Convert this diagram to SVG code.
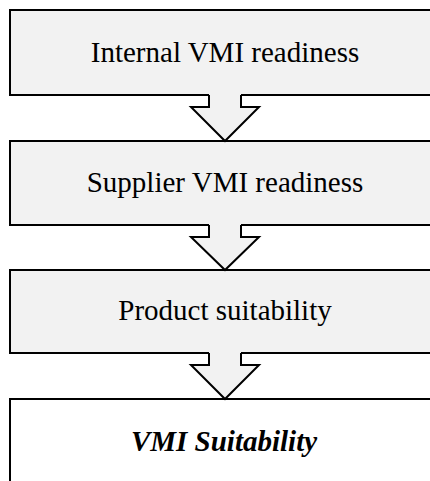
<svg xmlns="http://www.w3.org/2000/svg" width="430" height="481" viewBox="0 0 430 481">
<style>
.box{fill:#f2f2f2;stroke:#000;stroke-width:2}
.final{fill:#fff;stroke:#000;stroke-width:2}
.lbl{font-family:"Liberation Serif","Times New Roman",serif;font-size:29px;fill:#000;text-anchor:middle}
.bi{font-weight:bold;font-style:italic}
.afill{fill:#f2f2f2;stroke:none}
.aline{fill:none;stroke:#000;stroke-width:2;stroke-linejoin:miter}
</style>
<rect width="430" height="481" fill="#fff"/>
<g id="node1">
<rect class="box" x="10" y="10" width="440" height="85"/>
<text class="lbl" x="225" y="62">Internal VMI readiness</text>
</g>
<g id="node2">
<rect class="box" x="10" y="141" width="440" height="84"/>
<text class="lbl" x="225" y="192">Supplier VMI readiness</text>
</g>
<g id="node3">
<rect class="box" x="10" y="270" width="440" height="83"/>
<text class="lbl" x="225" y="320">Product suitability</text>
</g>
<g id="node4">
<rect class="final" x="10" y="399" width="440" height="100"/>
<text class="lbl bi" x="224" y="451">VMI Suitability</text>
</g>
<g id="connectors">
<polygon class="afill" points="209,94 241,94 241,107 259,107 225,141 191,107 209,107"/>
<polyline class="aline" points="209,95 209,107 191,107 225,141 259,107 241,107 241,95"/>
<polygon class="afill" points="209,224 241,224 241,237 259,237 225,270 191,237 209,237"/>
<polyline class="aline" points="209,225 209,237 191,237 225,270 259,237 241,237 241,225"/>
<polygon class="afill" points="209,352 241,352 241,365 259,365 225,399 191,365 209,365"/>
<polyline class="aline" points="209,353 209,365 191,365 225,399 259,365 241,365 241,353"/>
</g>
</svg>
